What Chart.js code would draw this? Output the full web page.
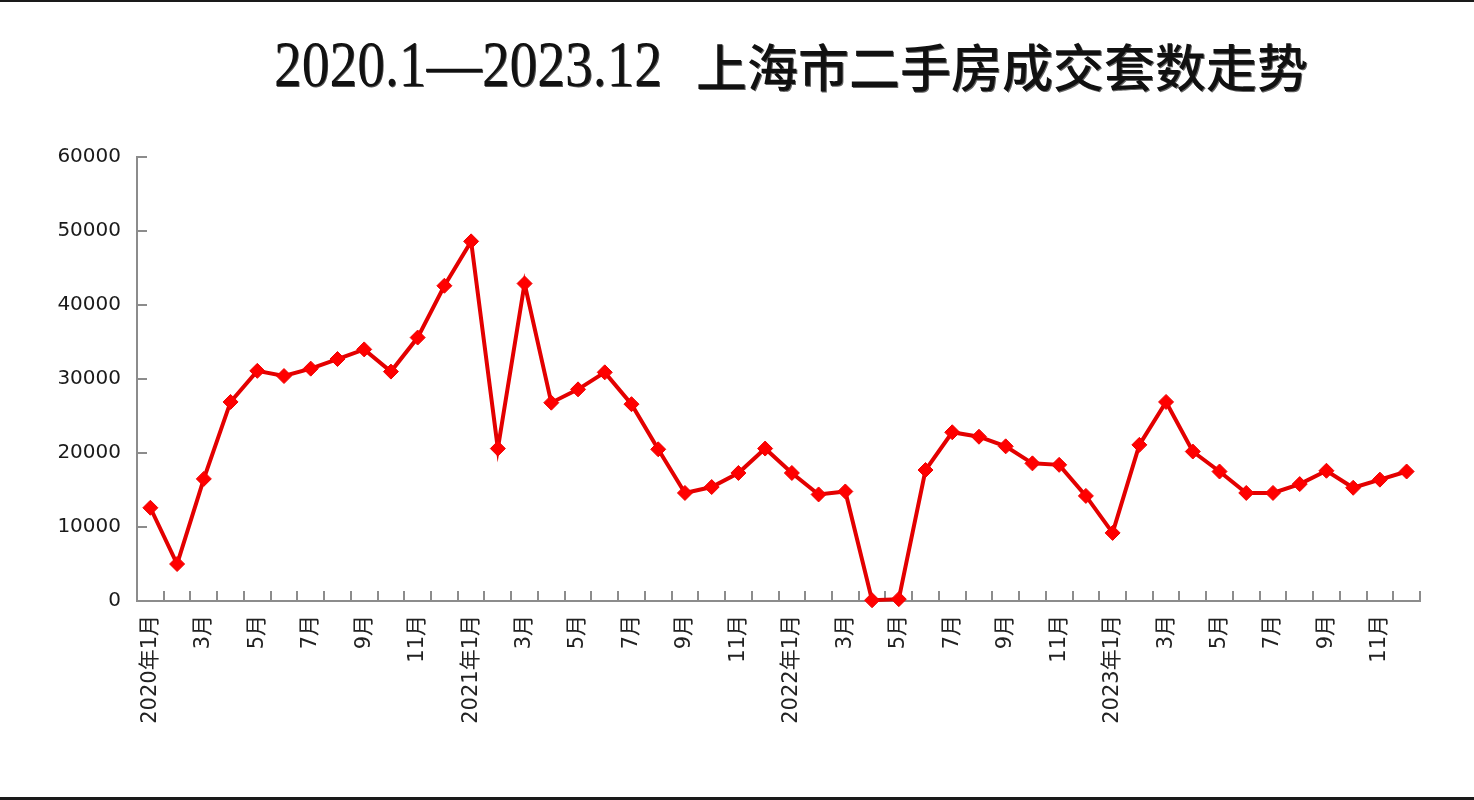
<!DOCTYPE html>
<html>
<head>
<meta charset="utf-8">
<script src="https://cdn.jsdelivr.net/npm/chart.js@4.4.1/dist/chart.umd.min.js"></script>
<style>
  html, body { margin: 0; padding: 0; background: #fff; }
  #wrap { position: relative; width: 1474px; height: 800px; overflow: hidden; background: #fff; }
  #wrap canvas { position: absolute; left: 0; top: 0; }
  .bar-top { position: absolute; left: 0; top: 0; width: 1474px; height: 2px; background: #1a1a1a; }
  .bar-bottom { position: absolute; left: 0; bottom: 0; width: 1474px; height: 3px; background: #1a1a1a; }
  .title-num { position: absolute; left: 274px; top: 31px; font-family: "Liberation Serif", serif; font-size: 66px; line-height: 66px; color: #111; white-space: nowrap; transform: scaleX(0.84); transform-origin: left center; text-shadow: 1px 1px 0 #555; }
  .title-cjk { position: absolute; left: 696px; top: 40px; font-family: "Noto Sans CJK SC", sans-serif; font-size: 51px; line-height: 51px; font-weight: 500; color: #111; white-space: nowrap; text-shadow: 1px 1px 0 #666; }
</style>
</head>
<body>
<div id="wrap">
  <canvas id="c" width="1474" height="800"></canvas>
  <div class="title-num">2020.1—2023.12</div>
  <div class="title-cjk">上海市二手房成交套数走势</div>
  <div class="bar-top"></div>
  <div class="bar-bottom"></div>
</div>
<script>
const categories = [
  '2020年1月','2月','3月','4月','5月','6月','7月','8月','9月','10月','11月','12月',
  '2021年1月','2月','3月','4月','5月','6月','7月','8月','9月','10月','11月','12月',
  '2022年1月','2月','3月','4月','5月','6月','7月','8月','9月','10月','11月','12月',
  '2023年1月','2月','3月','4月','5月','6月','7月','8月','9月','10月','11月','12月'
];
const sales2020 = [12600, 5000, 16500, 26900, 31100, 30400, 31400, 32700, 34000, 31000, 35600, 42600];
const sales2021 = [48600, 20600, 42900, 26800, 28600, 30900, 26600, 20500, 14600, 15400, 17300, 20600];
const sales2022 = [17300, 14400, 14800, 100, 250, 17700, 22800, 22200, 20900, 18600, 18400, 14200];
const sales2023 = [9200, 21100, 26900, 20200, 17500, 14600, 14600, 15800, 17600, 15300, 16400, 17500];
const yTicks = [0, 10000, 20000, 30000, 40000, 50000, 60000];

const salesValues = [].concat(sales2020, sales2021, sales2022, sales2023);

const innerTicks = {
  id: 'innerTicks',
  beforeDatasetsDraw(chart) {
    const ctx = chart.ctx;
    const area = chart.chartArea;
    const xs = chart.scales.x, ys = chart.scales.y;
    ctx.save();
    ctx.strokeStyle = '#8c8c8c';
    ctx.lineWidth = 2;
    ctx.beginPath();
    yTicks.forEach(v => {
      if (v === 0) return;
      const y = Math.round(ys.getPixelForValue(v));
      ctx.moveTo(area.left, y);
      ctx.lineTo(area.left + 10, y);
    });
    for (let i = 1; i <= categories.length; i++) {
      const x = Math.round(xs.getPixelForValue(i - 0.5));
      ctx.moveTo(x, area.bottom);
      ctx.lineTo(x, area.bottom - 10);
    }
    ctx.stroke();
    ctx.restore();
  }
};

new Chart(document.getElementById('c'), {
  type: 'line',
  data: {
    labels: categories,
    datasets: [{
      label: '成交套数',
      data: salesValues,
      borderColor: '#e30000',
      borderWidth: 4,
      pointStyle: 'rectRot',
      pointRadius: 7.5,
      pointBackgroundColor: '#ff0000',
      pointBorderColor: '#f00000',
      pointBorderWidth: 1,
      tension: 0,
      fill: false,
      clip: false
    }]
  },
  options: {
    responsive: false,
    animation: false,
    devicePixelRatio: 1,
    layout: { padding: { top: 157, right: 54, bottom: 0, left: 0 } },
    plugins: {
      legend: { display: false },
      tooltip: { enabled: false },
      title: { display: false }
    },
    scales: {
      x: {
        type: 'category',
        offset: true,
        grid: { display: false, drawTicks: false },
        border: { display: true, color: '#8c8c8c', width: 2 },
        ticks: {
          autoSkip: false,
          maxRotation: 90,
          minRotation: 90,
          padding: 14,
          color: '#222',
          font: { family: "'DejaVu Sans', 'Noto Sans CJK SC', sans-serif", size: 21 },
          callback: function(value, index) { return index % 2 === 0 ? categories[index] : ''; }
        },
        afterFit(scale) { scale.height = 199; }
      },
      y: {
        min: 0,
        max: 60000,
        grid: { display: false, drawTicks: false },
        border: { display: true, color: '#8c8c8c', width: 2 },
        ticks: {
          stepSize: 10000,
          padding: 16,
          color: '#1a1a1a',
          font: { family: "'DejaVu Sans', sans-serif", size: 20 },
          callback: v => String(v)
        },
        afterFit(scale) { scale.width = 137; }
      }
    }
  },
  plugins: [innerTicks]
});
</script>
</body>
</html>
